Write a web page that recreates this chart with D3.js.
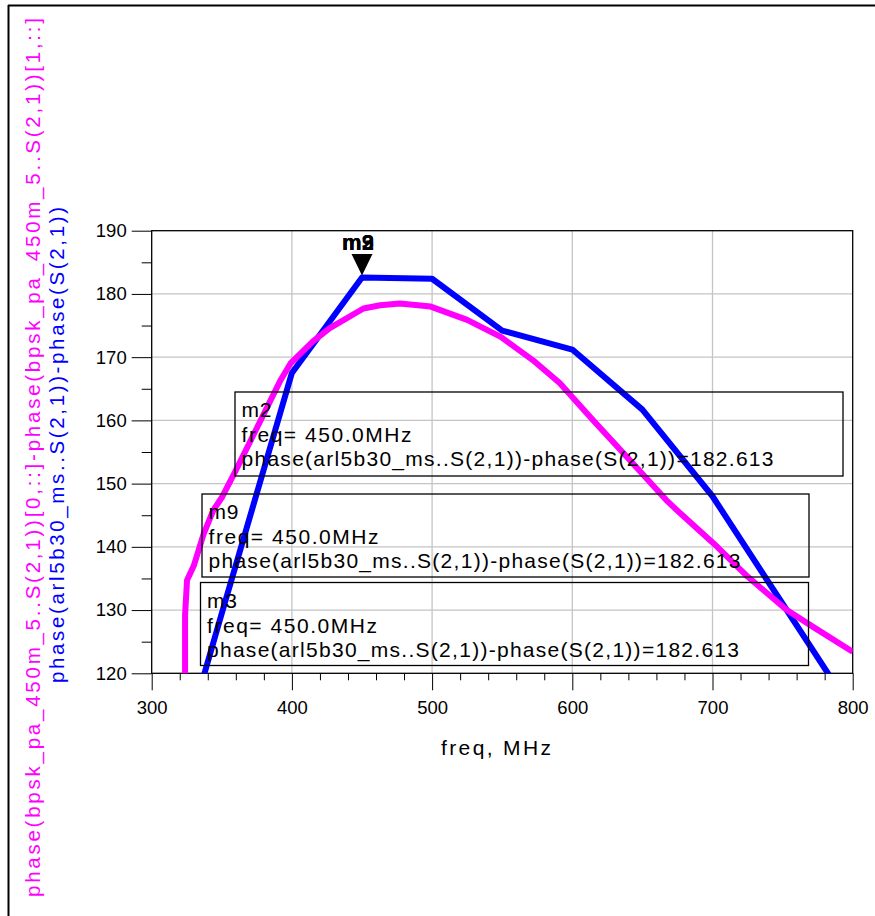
<!DOCTYPE html>
<html>
<head>
<meta charset="utf-8">
<script src="https://cdn.jsdelivr.net/npm/d3@7"></script>
<style>
  html, body { margin: 0; padding: 0; background: #fff; }
  svg { display: block; font-family: "Liberation Sans", Arial, sans-serif; }
</style>
</head>
<body>
<svg id="chart" width="875" height="916"></svg>
<script>
// ---- data ----
const blueFreq = [300, 350, 400, 450, 500, 550, 600, 650, 700, 750, 800];
const blueVals = [91, 129.5, 167.5, 182.6, 182.4, 174.2, 171.2, 161.7, 148, 131, 114];

const magFreq = [323.8, 323.8, 325.2, 330, 337, 344, 350, 360, 375, 392, 399, 415, 427, 451, 463, 477, 499, 525, 549, 572, 591, 615, 639, 667, 677, 701, 725, 753, 772, 800];
const magVals = [100, 129.2, 134.7, 137, 142, 145.8, 147.8, 152.1, 158.8, 166.4, 169, 172.5, 174.6, 177.7, 178.2, 178.5, 178, 175.9, 173.2, 169.5, 165.9, 160, 154.2, 147.4, 145.3, 140.5, 135.3, 130, 127.3, 123.4];

const xTicks = [300, 400, 500, 600, 700, 800];
const yTicks = [120, 130, 140, 150, 160, 170, 180, 190];
const xMinor = d3.range(300, 801, 20);
const yMinor = d3.range(125, 190, 10);

const markerNames = ["m2", "m3", "m9"];
const markerFreq = 450;
const markerVal = 182.613;
const markerBoxes = [
  { name: "m2", line2: "freq= 450.0MHz", line3: "phase(arl5b30_ms..S(2,1))-phase(S(2,1))=182.613" },
  { name: "m9", line2: "freq= 450.0MHz", line3: "phase(arl5b30_ms..S(2,1))-phase(S(2,1))=182.613" },
  { name: "m3", line2: "freq= 450.0MHz", line3: "phase(arl5b30_ms..S(2,1))-phase(S(2,1))=182.613" }
];
const boxGeom = [
  { x: 235, y: 392, w: 608, h: 84 },
  { x: 202, y: 494, w: 607, h: 83 },
  { x: 200.5, y: 582.5, w: 608, h: 83 }
];

const yLabelMag = "phase(bpsk_pa_450m_5..S(2,1))[0,::]-phase(bpsk_pa_450m_5..S(2,1))[1,::]";
const yLabelBlue = "phase(arl5b30_ms..S(2,1))-phase(S(2,1))";
const xLabel = "freq, MHz";

// ---- layout ----
const svg = d3.select("#chart");
const L = 151.7, R = 852.7, T = 230.7, B = 673.3;
const x = d3.scaleLinear().domain([300, 800]).range([L, R]);
const y = d3.scaleLinear().domain([120, 190]).range([B, T]);

// outer frame (left + top)
svg.append("line").attr("x1", 8.5).attr("x2", 8.5).attr("y1", 5).attr("y2", 916)
  .attr("stroke", "#000").attr("stroke-width", 2);
svg.append("line").attr("x1", 8).attr("x2", 875).attr("y1", 5.5).attr("y2", 5.5)
  .attr("stroke", "#000").attr("stroke-width", 2);

// grid
const grid = svg.append("g");
grid.selectAll(".vg").data(xTicks.slice(1, -1)).enter().append("line")
  .attr("x1", d => x(d)).attr("x2", d => x(d)).attr("y1", T).attr("y2", B)
  .attr("stroke", "#c4c4c4").attr("stroke-width", 1.3);
grid.selectAll(".hg").data(yTicks.slice(1, -1)).enter().append("line")
  .attr("x1", L).attr("x2", R).attr("y1", d => y(d)).attr("y2", d => y(d))
  .attr("stroke", "#c4c4c4").attr("stroke-width", 1.3);

// axes
const xAxis = d3.axisBottom(x).tickValues(xTicks).tickSize(17).tickPadding(6).tickFormat(d3.format("d"));
const gx = svg.append("g").attr("transform", `translate(0,${B})`).call(xAxis);
gx.select(".domain").remove();
gx.selectAll("line").attr("stroke", "#000");
gx.selectAll("text").attr("font-size", 18.5).attr("fill", "#000")
  .attr("font-family", "Liberation Sans, Arial, sans-serif").attr("dy", "0.95em");
const xAxisMinor = d3.axisBottom(x).tickValues(xMinor.filter(v => !xTicks.includes(v))).tickSize(7).tickFormat("");
const gxm = svg.append("g").attr("transform", `translate(0,${B})`).call(xAxisMinor);
gxm.select(".domain").remove();
gxm.selectAll("line").attr("stroke", "#000");

const yAxis = d3.axisLeft(y).tickValues(yTicks).tickSize(20).tickPadding(5).tickFormat(d3.format("d"));
const gy = svg.append("g").attr("transform", `translate(${L},0)`).call(yAxis);
gy.select(".domain").remove();
gy.selectAll("line").attr("stroke", "#000");
gy.selectAll("text").attr("font-size", 18.5).attr("fill", "#000")
  .attr("font-family", "Liberation Sans, Arial, sans-serif");
const yAxisMinor = d3.axisLeft(y).tickValues(yMinor).tickSize(10).tickFormat("");
const gym = svg.append("g").attr("transform", `translate(${L},0)`).call(yAxisMinor);
gym.select(".domain").remove();
gym.selectAll("line").attr("stroke", "#000");

// plot frame
svg.append("rect").attr("x", L).attr("y", T).attr("width", R - L).attr("height", B - T)
  .attr("fill", "none").attr("stroke", "#000").attr("stroke-width", 1.3);

// clip
svg.append("clipPath").attr("id", "clip").append("rect")
  .attr("x", L).attr("y", T).attr("width", R - L).attr("height", B - T);

const line = d3.line().x(d => x(d[0])).y(d => y(d[1]));
const plot = svg.append("g").attr("clip-path", "url(#clip)");
plot.append("path").datum(blueFreq.map((f, i) => [f, blueVals[i]]))
  .attr("d", line).attr("fill", "none").attr("stroke", "#0000ff")
  .attr("stroke-width", 6).attr("stroke-linejoin", "round");
plot.append("path").datum(magFreq.map((f, i) => [f, magVals[i]]))
  .attr("d", line).attr("fill", "none").attr("stroke", "#ff00ff")
  .attr("stroke-width", 6).attr("stroke-linejoin", "round");

// marker boxes
const boxes = svg.append("g");
markerBoxes.forEach((m, i) => {
  const g = boxGeom[i];
  const bg = boxes.append("g");
  bg.append("rect").attr("x", g.x).attr("y", g.y).attr("width", g.w).attr("height", g.h)
    .attr("fill", "none").attr("stroke", "#000").attr("stroke-width", 1.3);
  const tx = g.x + 6.5;
  bg.append("text").attr("x", tx).attr("y", g.y + 25).attr("font-size", 21)
    .attr("textLength", 30).attr("lengthAdjust", "spacing").text(m.name);
  bg.append("text").attr("x", tx).attr("y", g.y + 50).attr("font-size", 21)
    .attr("textLength", 170).attr("lengthAdjust", "spacing").attr("xml:space", "preserve")
    .style("white-space", "pre").text(m.line2);
  bg.append("text").attr("x", tx).attr("y", g.y + 74).attr("font-size", 21)
    .attr("textLength", 532).attr("lengthAdjust", "spacing").text(m.line3);
});

// marker triangle + names
const mx = x(markerFreq), my = y(markerVal);
svg.append("path")
  .attr("d", `M${mx - 10.5},${my - 23.5} L${mx + 10.5},${my - 23.5} L${mx},${my - 2} Z`)
  .attr("fill", "#000");
markerNames.forEach(n => {
  svg.append("text").attr("x", mx - 4).attr("y", my - 27.5).attr("text-anchor", "middle")
    .attr("font-size", 22).attr("font-weight", "bold").attr("fill", "#000").text(n);
});

// axis titles
svg.append("text").attr("x", 496).attr("y", 755).attr("text-anchor", "middle")
  .attr("font-size", 21).attr("textLength", 110).attr("lengthAdjust", "spacing").text(xLabel);

svg.append("text").attr("transform", "translate(40,897) rotate(-90)")
  .attr("font-size", 20.5).attr("fill", "#ff00ff")
  .attr("textLength", 879).attr("lengthAdjust", "spacing").text(yLabelMag);
svg.append("text").attr("transform", "translate(63.5,683) rotate(-90)")
  .attr("font-size", 20.5).attr("fill", "#0000ff")
  .attr("textLength", 476).attr("lengthAdjust", "spacing").text(yLabelBlue);
</script>
</body>
</html>
